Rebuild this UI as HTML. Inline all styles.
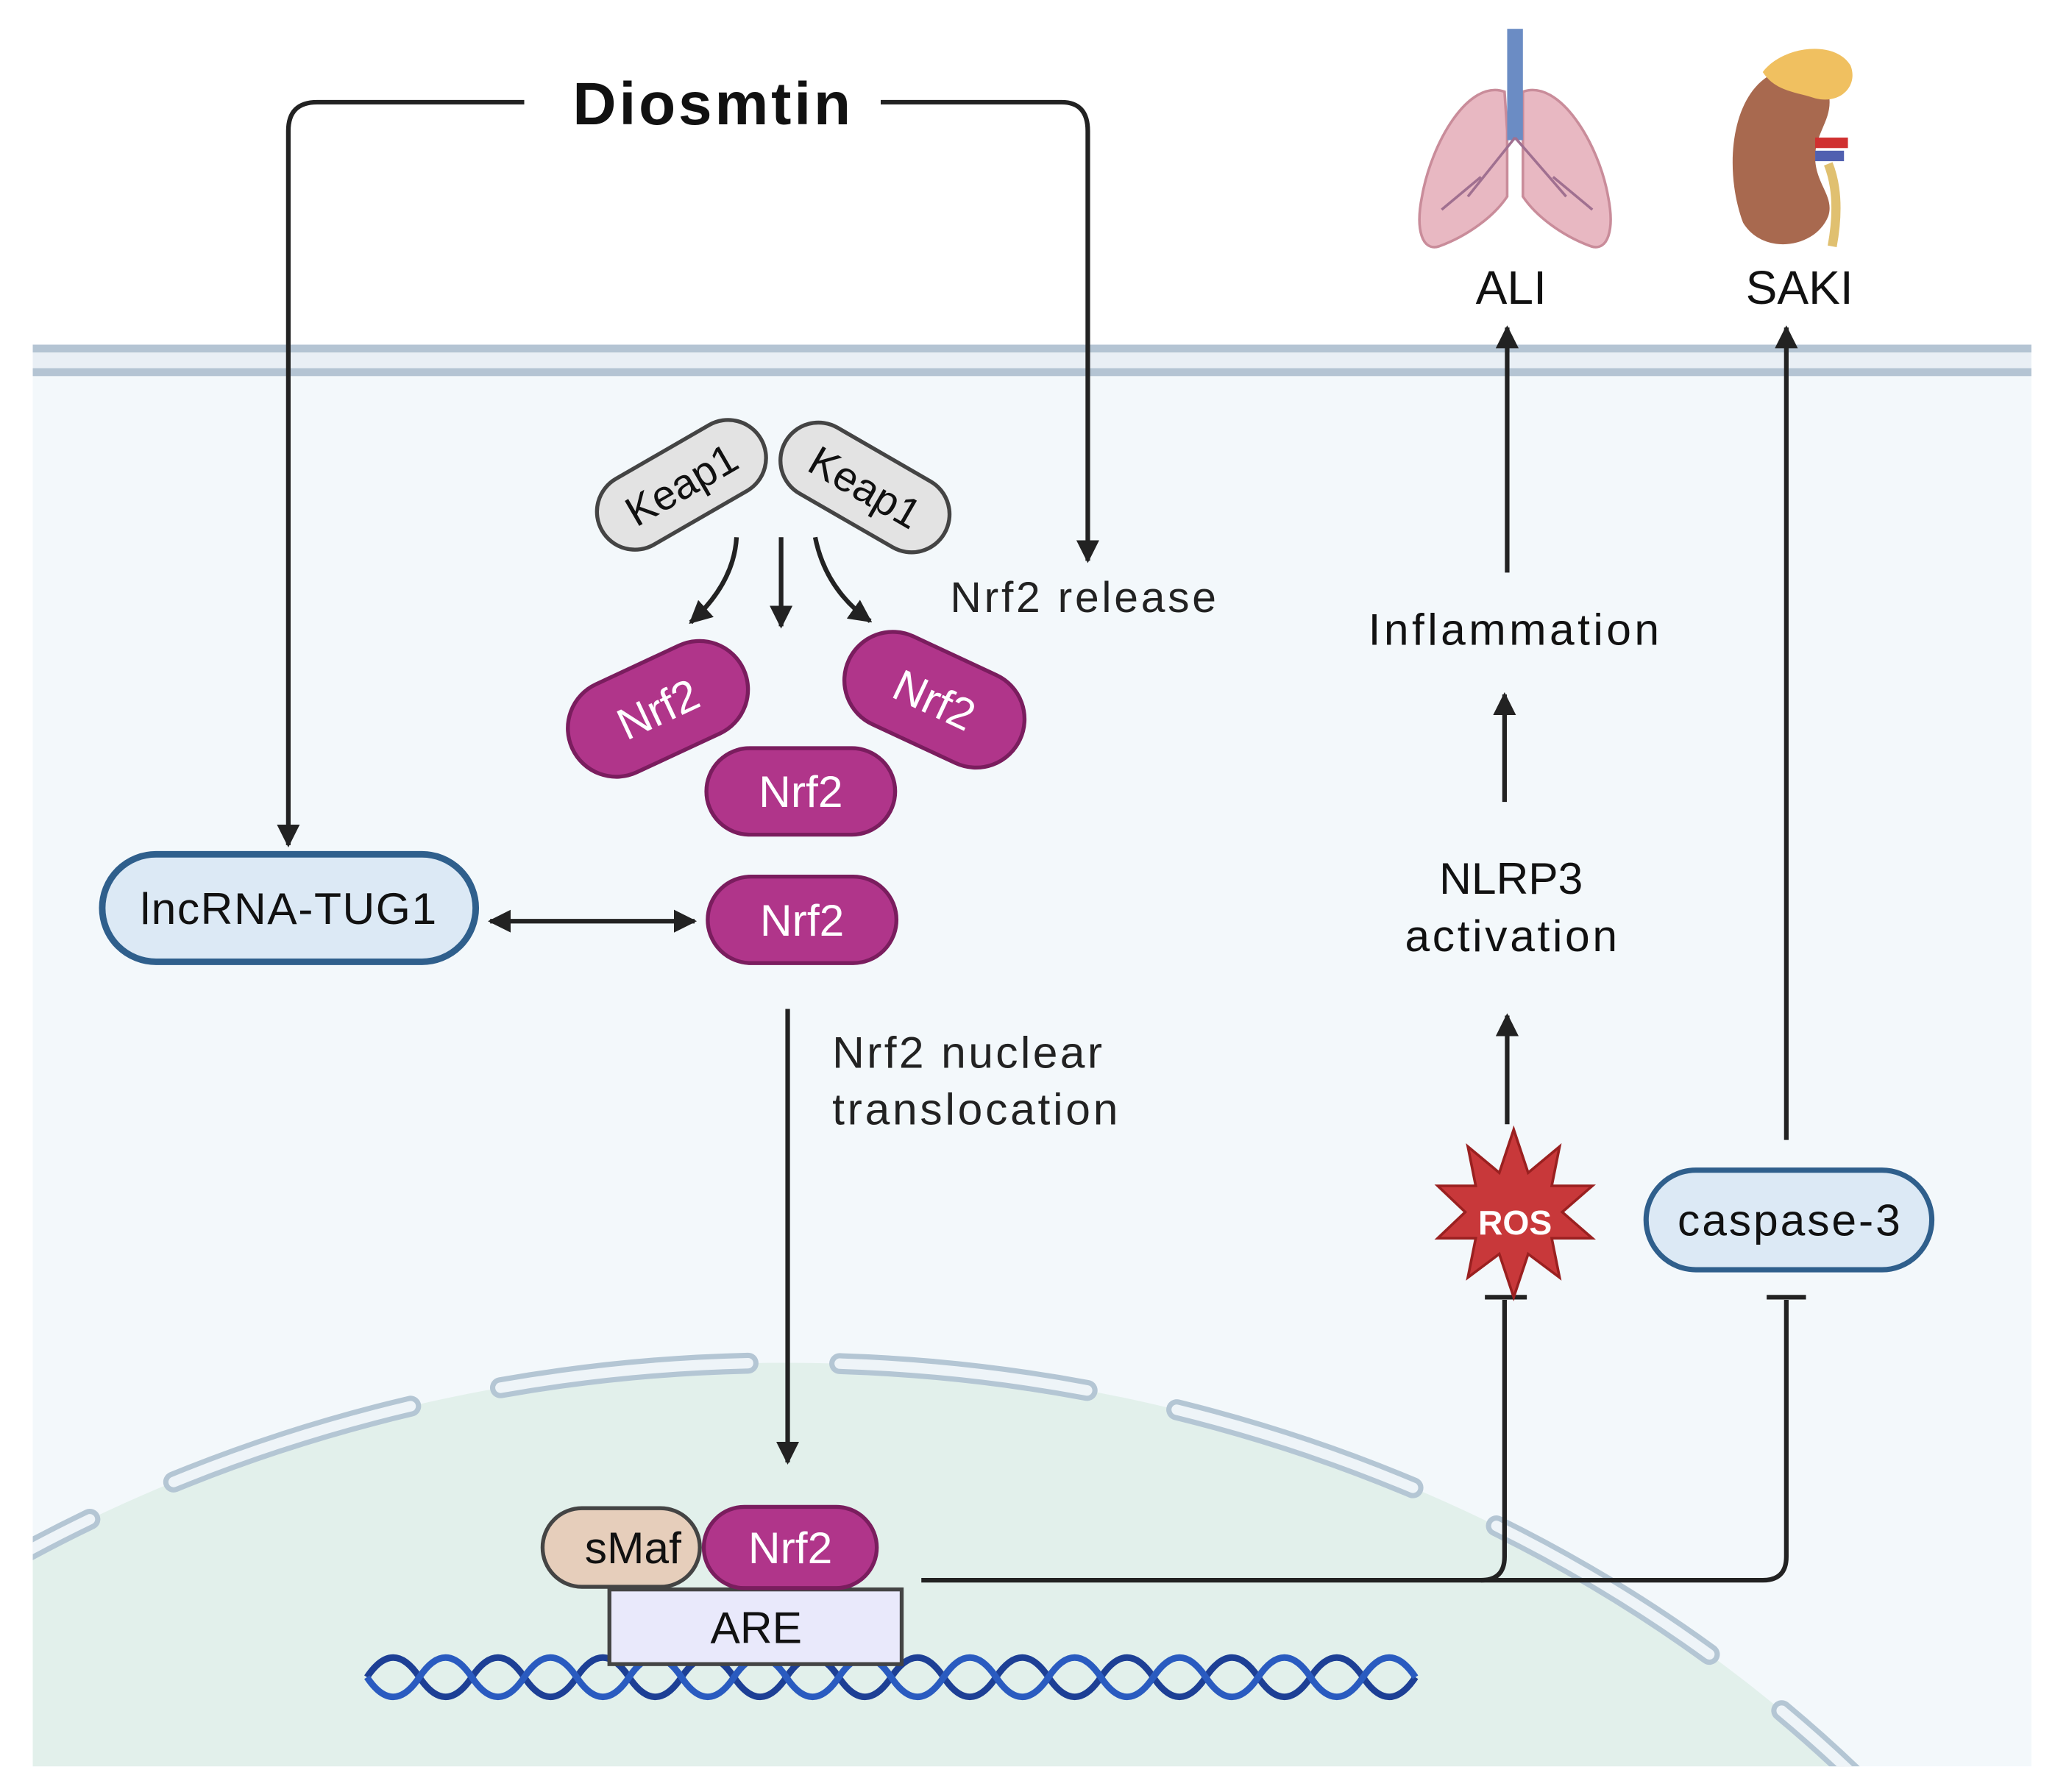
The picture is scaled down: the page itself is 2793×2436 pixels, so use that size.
<!DOCTYPE html>
<html><head><meta charset="utf-8"><style>html,body{margin:0;padding:0;background:#fff;overflow:hidden;width:2793px;height:2436px}svg{display:block}text{font-family:"Liberation Sans",sans-serif}</style></head><body>
<svg width="2793" height="2436" viewBox="0 0 1568 1367.6" preserveAspectRatio="none" xmlns="http://www.w3.org/2000/svg">
<defs>
<marker id="ah" viewBox="0 0 10 10" refX="9" refY="5" markerWidth="5" markerHeight="5" orient="auto-start-reverse"><path d="M0,0 L10,5 L0,10 z" fill="#222"/></marker>
<clipPath id="cell"><rect x="25" y="280" width="1525" height="1068"/></clipPath>
</defs>
<rect x="25" y="275" width="1525" height="1073" fill="#f3f8fb"/>
<g clip-path="url(#cell)">
<ellipse cx="600" cy="2000" rx="1100" ry="960" fill="#e2f0eb"/>
<ellipse cx="600" cy="2000" rx="1100" ry="960" fill="none" stroke="#b4c6d4" stroke-width="16" stroke-dasharray="190 70" stroke-dashoffset="40" stroke-linecap="round"/>
<ellipse cx="600" cy="2000" rx="1100" ry="960" fill="none" stroke="#eef4f8" stroke-width="8" stroke-dasharray="190 70" stroke-dashoffset="40" stroke-linecap="round"/>
</g>
<rect x="25" y="263" width="1525" height="24" fill="#e9eff5"/>
<line x1="25" y1="266" x2="1550" y2="266" stroke="#b4c4d3" stroke-width="6"/>
<line x1="25" y1="284" x2="1550" y2="284" stroke="#b4c4d3" stroke-width="6"/>

<text x="543" y="95" font-size="46" font-weight="bold" text-anchor="middle" fill="#111" textLength="212">Diosmtin</text>
<g fill="none" stroke="#222" stroke-width="3.5">
<path d="M400,78 H242 Q220,78 220,100 V645" marker-end="url(#ah)"/>
<path d="M672,78 H810 Q830,78 830,100 V428" marker-end="url(#ah)"/>
<path d="M562,410 Q560,445 527,475" marker-end="url(#ah)"/>
<path d="M596,410 V478" marker-end="url(#ah)"/>
<path d="M622,410 Q630,450 664,474" marker-end="url(#ah)"/>
<path d="M374,703 H530" marker-start="url(#ah)" marker-end="url(#ah)"/>
<path d="M601,770 V1116" marker-end="url(#ah)"/>
<path d="M703,1206 H1130 Q1148,1206 1148,1188 V992"/>
<path d="M1130,1206 H1345 Q1363,1206 1363,1188 V992"/>
<path d="M1133,990 H1165 M1348,990 H1378"/>
<path d="M1150,858 V775" marker-end="url(#ah)"/>
<path d="M1148,612 V530" marker-end="url(#ah)"/>
<path d="M1150,437 V250" marker-end="url(#ah)"/>
<path d="M1363,870 V250" marker-end="url(#ah)"/>
</g>

<g>
<path d="M1148,70 C1120,60 1092,110 1085,150 C1080,175 1085,192 1098,188 C1120,180 1140,165 1150,150 L1150,100 Z" fill="#e8b8c2" stroke="#c98c9a" stroke-width="2"/>
<path d="M1162,70 C1190,60 1220,110 1227,150 C1232,175 1227,192 1214,188 C1192,180 1172,165 1162,150 L1162,100 Z" fill="#e8b8c2" stroke="#c98c9a" stroke-width="2"/>
<rect x="1150" y="22" width="12" height="85" fill="#6b8cc4"/>
<path d="M1156,105 L1120,150 M1156,105 L1195,150 M1130,135 L1100,160 M1185,135 L1215,160" stroke="#a07090" stroke-width="2" fill="none"/>
</g>
<text x="1153" y="232" font-size="36" text-anchor="middle" fill="#111">ALI</text>
<path d="M1355,55 C1320,70 1315,130 1330,170 C1345,195 1385,190 1395,165 C1400,150 1385,140 1385,120 C1385,100 1400,90 1395,70 C1390,52 1370,48 1355,55 Z" fill="#a8694f"/>
<path d="M1345,55 C1360,35 1400,30 1412,50 C1418,65 1405,80 1385,75 C1370,70 1355,70 1345,55 Z" fill="#f0c060"/>
<rect x="1385" y="105" width="25" height="8" fill="#d03030"/><rect x="1385" y="115" width="22" height="8" fill="#5060b0"/>
<path d="M1395,125 Q1405,150 1398,188" stroke="#e0c070" stroke-width="7" fill="none"/>
<text x="1373" y="232" font-size="36" text-anchor="middle" fill="#111">SAKI</text>

<g transform="translate(520,370) rotate(-30)"><rect x="-70" y="-29" width="140" height="58" rx="29" fill="#e3e3e3" stroke="#444" stroke-width="3"/><text y="11" font-size="32" text-anchor="middle" fill="#111">Keap1</text></g>
<g transform="translate(660,372) rotate(30)"><rect x="-70" y="-29" width="140" height="58" rx="29" fill="#e3e3e3" stroke="#444" stroke-width="3"/><text y="11" font-size="32" text-anchor="middle" fill="#111">Keap1</text></g>
<text x="725" y="467" font-size="33" fill="#222" textLength="203">Nrf2 release</text>

<g fill="#b0358a" stroke="#7a1d5e" stroke-width="3">
<g transform="translate(502,541) rotate(-25)"><rect x="-72" y="-37" width="144" height="74" rx="37"/><text y="12" font-size="34" text-anchor="middle" fill="#fff" stroke="none">Nrf2</text></g>
<g transform="translate(713,534) rotate(25)"><rect x="-72" y="-37" width="144" height="74" rx="37"/><text y="12" font-size="34" text-anchor="middle" fill="#fff" stroke="none">Nrf2</text></g>
<g transform="translate(611,604)"><rect x="-72" y="-33" width="144" height="66" rx="33"/><text y="12" font-size="34" text-anchor="middle" fill="#fff" stroke="none">Nrf2</text></g>
<g transform="translate(612,702)"><rect x="-72" y="-33" width="144" height="66" rx="33"/><text y="12" font-size="34" text-anchor="middle" fill="#fff" stroke="none">Nrf2</text></g>
</g>

<rect x="78" y="652" width="285" height="82" rx="41" fill="#dce9f5" stroke="#2f5f8c" stroke-width="5"/>
<text x="220" y="705" font-size="34" text-anchor="middle" fill="#111" textLength="226">lncRNA-TUG1</text>

<text x="635" y="815" font-size="34" fill="#222" textLength="206">Nrf2 nuclear</text>
<text x="635" y="858" font-size="34" fill="#222" textLength="218">translocation</text>

<g fill="none" stroke-width="5">
<path d="M280,1280 q20,-30 40,0 t40,0 t40,0 t40,0 t40,0 t40,0 t40,0 t40,0 t40,0 t40,0 t40,0 t40,0 t40,0 t40,0 t40,0 t40,0 t40,0 t40,0 t40,0 t40,0" stroke="#1d3f95"/>
<path d="M280,1280 q20,30 40,0 t40,0 t40,0 t40,0 t40,0 t40,0 t40,0 t40,0 t40,0 t40,0 t40,0 t40,0 t40,0 t40,0 t40,0 t40,0 t40,0 t40,0 t40,0 t40,0" stroke="#2a5bc0"/>
</g>
<rect x="465" y="1213" width="223" height="57" fill="#e9e9fb" stroke="#444" stroke-width="3"/>
<text x="577" y="1254" font-size="34" text-anchor="middle" fill="#111">ARE</text>
<rect x="414" y="1151" width="120" height="60" rx="30" fill="#e6cebb" stroke="#444" stroke-width="3"/>
<text x="483" y="1193" font-size="34" text-anchor="middle" fill="#111">sMaf</text>
<rect x="537" y="1150" width="132" height="62" rx="31" fill="#b0358a" stroke="#7a1d5e" stroke-width="3"/>
<text x="603" y="1193" font-size="34" text-anchor="middle" fill="#fff">Nrf2</text>

<text x="1153" y="682" font-size="34" text-anchor="middle" fill="#111">NLRP3</text>
<text x="1153" y="726" font-size="34" text-anchor="middle" fill="#111" textLength="162">activation</text>
<text x="1155" y="492" font-size="34" text-anchor="middle" fill="#111" textLength="222">Inflammation</text>
<path d="M1155,862 L1166,895 L1190,875 L1184,905 L1215,905 L1192,925 L1215,945 L1184,945 L1190,975 L1166,957 L1155,990 L1144,957 L1120,975 L1126,945 L1097,945 L1118,925 L1097,905 L1126,905 L1120,875 L1144,895 Z" fill="#c8383a" stroke="#9a2020" stroke-width="2"/>
<text x="1156" y="942" font-size="26" font-weight="bold" text-anchor="middle" fill="#fff">ROS</text>
<rect x="1256" y="893" width="218" height="76" rx="38" fill="#dce9f5" stroke="#2f5f8c" stroke-width="4"/>
<text x="1365" y="943" font-size="34" text-anchor="middle" fill="#111" textLength="170">caspase-3</text>
</svg>
</body></html>
